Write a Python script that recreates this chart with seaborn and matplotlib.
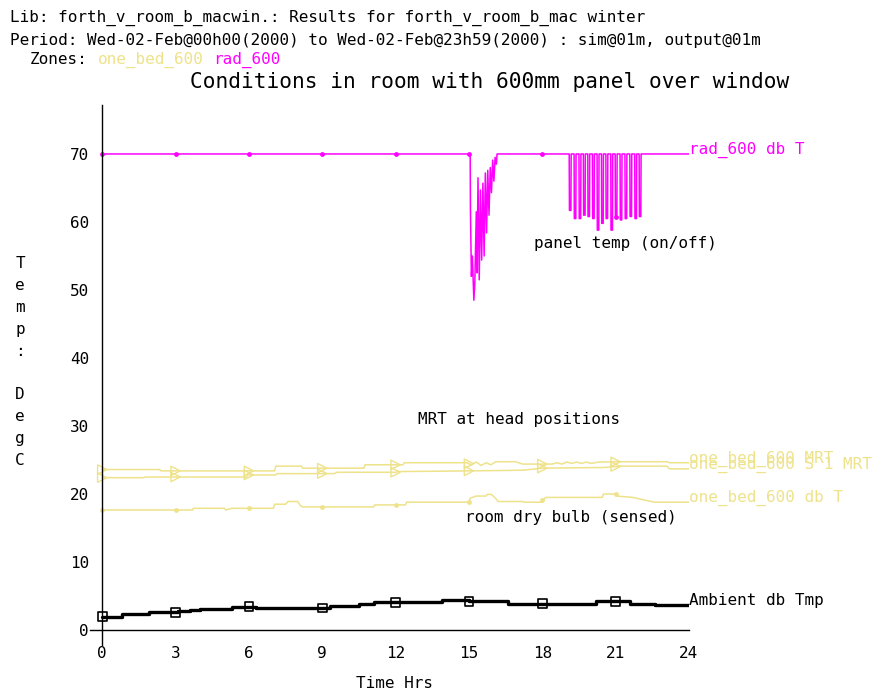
import numpy as np
import pandas as pd
import matplotlib
matplotlib.use("Agg")
import matplotlib.pyplot as plt
import seaborn as sns

# ---- values (hours, deg C) ----
hour_ticks = [0, 3, 6, 9, 12, 15, 18, 21, 24]
temp_ticks = [0, 10, 20, 30, 40, 50, 60, 70]
marker_hours = [0, 3, 6, 9, 12, 15, 18, 21]

# rad_600 db T: panel sits at 70 with a first burst of on/off cycling after 15h
rad_t = [0, 15.05, 15.06, 15.10, 15.14, 15.20, 15.24, 15.30, 15.33, 15.37, 15.42,
         15.47, 15.52, 15.57, 15.62, 15.67, 15.72, 15.77, 15.82, 15.87, 15.92,
         15.97, 16.02, 16.07, 16.12, 16.15, 19.05]
rad_v = [70, 70, 61.8, 52.0, 55.0, 48.5, 51.0, 61.5, 52.5, 66.5, 51.5,
         64.7, 54.4, 65.7, 55.0, 67.2, 58.4, 67.6, 61.0, 68.0, 64.3,
         69.1, 66.0, 69.5, 68.5, 70, 70]
# second burst: start of each off-dip and the lowest value reached
spike_t = [19.10, 19.30, 19.50, 19.68, 19.86, 20.05, 20.24, 20.42, 20.60,
           20.80, 20.98, 21.18, 21.38, 21.58, 21.78, 21.96]
spike_v = [61.7, 60.5, 60.5, 61.0, 60.8, 60.5, 58.8, 59.8, 60.5,
           58.8, 60.8, 60.3, 60.5, 60.8, 60.5, 60.8]

# one_bed_600 MRT (upper) and S 1 MRT (lower)
mrt_t = [0, 2.35, 2.40, 7.05, 7.10, 8.15, 8.20, 10.70, 10.75, 12.30, 12.35, 14.90,
         15.10, 15.30, 15.50, 15.70, 15.90, 16.10, 16.90, 17.20, 18.40, 18.60, 18.80,
         19.00, 19.20, 19.40, 19.60, 19.80, 20.00, 20.30, 21.30, 23.10, 23.20, 24]
mrt_v = [23.6, 23.6, 23.4, 23.4, 24.1, 24.1, 23.8, 23.8, 24.3, 24.3, 24.6, 24.6,
         24.3, 24.7, 24.2, 24.6, 24.3, 24.75, 24.75, 24.4, 24.4, 24.6, 24.4,
         24.7, 24.5, 24.7, 24.5, 24.7, 24.5, 24.7, 24.75, 24.75, 24.6, 24.6]
mrt_s1_t = [0, 1.70, 1.75, 5.90, 5.95, 7.10, 7.15, 9.50, 9.60, 12.0, 12.1, 15.0,
            17.2, 18.0, 20.5, 21.2, 23.1, 23.2, 24]
mrt_s1_v = [22.4, 22.4, 22.5, 22.5, 22.8, 22.8, 23.0, 23.0, 23.2, 23.2, 23.3, 23.4,
            23.5, 23.8, 23.9, 24.1, 24.1, 23.7, 23.7]

# one_bed_600 db T (room dry bulb)
dbt_t = [0, 3.70, 3.72, 5.00, 5.05, 5.30, 7.00, 7.05, 7.50, 7.60, 8.00, 8.10, 8.20,
         11.10, 11.15, 12.40, 12.45, 15.00, 15.05, 15.30, 15.70, 15.75, 15.90, 16.00,
         16.20, 17.20, 17.25, 17.95, 18.00, 18.15, 20.45, 20.50, 21.00, 21.05, 21.70,
         22.20, 22.60, 24]
dbt_v = [17.65, 17.65, 17.9, 17.9, 17.65, 17.9, 17.9, 18.5, 18.5, 18.9, 18.9, 18.3, 18.1,
         18.1, 18.4, 18.4, 18.8, 18.8, 19.4, 19.7, 19.7, 19.95, 19.95, 19.7,
         18.9, 18.9, 18.8, 18.8, 19.1, 19.5, 19.5, 20.0, 20.0, 19.7, 19.5,
         19.1, 18.8, 18.8]

# Ambient db Tmp (stepped)
amb_t = [0, 0.8, 1.9, 3.1, 3.6, 4.0, 5.3, 6.3, 9.3, 10.5, 11.1, 13.9, 15.0, 16.6,
         20.2, 21.6, 22.6, 24]
amb_v = [1.95, 2.35, 2.6, 2.8, 2.95, 3.1, 3.45, 3.25, 3.5, 3.8, 4.1, 4.45, 4.2, 3.9,
         4.25, 3.9, 3.75, 3.75]

MAGENTA = "#ff00ff"
KHAKI = "#eee28a"

# build the full panel series from the flat part and the dips
rad_x = list(rad_t)
rad_y = list(rad_v)
for s, d in zip(spike_t, spike_v):
    rad_x += [s, s + 0.01, s + 0.07, s + 0.08]
    rad_y += [70, d, d, 70]
rad_x.append(24)
rad_y.append(70)


def step_at(t, v, hours):
    idx = np.searchsorted(t, hours, side="right") - 1
    return np.asarray(v)[idx]


sns.set_theme(style="white")
plt.rcParams["font.family"] = ["DejaVu Sans Mono", "DejaVu Sans"]
plt.rcParams["text.color"] = "black"
plt.rcParams["xtick.color"] = "black"
plt.rcParams["ytick.color"] = "black"

fig = plt.figure(figsize=(8.75, 6.93), dpi=100)
ax = fig.add_axes([90 / 875, 48 / 693, 599 / 875, 540 / 693])

line_kw = dict(estimator=None, sort=False, legend=False, ax=ax)

sns.lineplot(x=rad_x, y=rad_y, color=MAGENTA, linewidth=1.1, **line_kw)
sns.scatterplot(x=marker_hours, y=np.interp(marker_hours, rad_x, rad_y), color=MAGENTA,
                s=12, linewidth=0, ax=ax, legend=False)

sns.lineplot(x=mrt_t, y=mrt_v, color=KHAKI, linewidth=1.1, **line_kw)
sns.lineplot(x=mrt_s1_t, y=mrt_s1_v, color=KHAKI, linewidth=1.1, **line_kw)
for tt, vv in [(mrt_t, mrt_v), (mrt_s1_t, mrt_s1_v)]:
    sns.scatterplot(x=marker_hours, y=np.interp(marker_hours, tt, vv), marker=">",
                    color=KHAKI, facecolor="none", edgecolor=KHAKI, s=45,
                    linewidth=1.0, ax=ax, legend=False)

sns.lineplot(x=dbt_t, y=dbt_v, color=KHAKI, linewidth=1.1, **line_kw)
sns.scatterplot(x=marker_hours, y=np.interp(marker_hours, dbt_t, dbt_v), color=KHAKI,
                s=12, linewidth=0, ax=ax, legend=False)

sns.lineplot(x=amb_t, y=amb_v, color="black", linewidth=2.4, drawstyle="steps-post",
             **line_kw)
sns.scatterplot(x=marker_hours, y=step_at(amb_t, amb_v, marker_hours), marker="s",
                color="black", facecolor="none", edgecolor="black", s=40,
                linewidth=1.2, ax=ax, legend=False)

# axes
ax.set_xlim(-0.5, 24)
ax.set_ylim(-2.2, 77.2)
ax.set_xticks(hour_ticks)
ax.set_yticks(temp_ticks)
for side in ["top", "right"]:
    ax.spines[side].set_visible(False)
ax.spines["bottom"].set_position(("data", 0))
ax.spines["bottom"].set_bounds(-0.5, 24)
ax.spines["left"].set_position(("data", 0))
for side in ["bottom", "left"]:
    ax.spines[side].set_color("black")
    ax.spines[side].set_linewidth(1.0)
ax.tick_params(axis="both", direction="out", length=8.5, width=1, colors="black",
               labelsize=11.5)
ax.tick_params(axis="x", pad=3)
ax.tick_params(axis="y", pad=1)
ax.set_xlabel("")
ax.set_ylabel("")
ax.patch.set_alpha(0)

# line end labels
end_labels = [
    ("rad_600 db T", rad_y[-1], MAGENTA),
    ("one_bed_600 MRT", mrt_v[-1], KHAKI),
    ("one_bed_600 S 1 MRT", mrt_s1_v[-1], KHAKI),
    ("one_bed_600 db T", dbt_v[-1], KHAKI),
    ("Ambient db Tmp", amb_v[-1], "black"),
]
for txt, yv, col in end_labels:
    ax.text(24.0, yv, txt, color=col, fontsize=11.5, ha="left", va="baseline",
            clip_on=False)

ax.text(21.4, 56.9, "panel temp (on/off)", fontsize=11.5, ha="center", va="center")
ax.text(17.06, 31.0, "MRT at head positions", fontsize=11.5, ha="center", va="center")
ax.text(19.16, 16.5, "room dry bulb (sensed)", fontsize=11.5, ha="center", va="center")


def fx(px):
    return px / 875


def fy(py):
    return 1 - py / 693


fig.text(fx(10), fy(18), "Lib: forth_v_room_b_macwin.: Results for forth_v_room_b_mac winter",
         fontsize=11.5, va="center")
fig.text(fx(10), fy(40), "Period: Wed-02-Feb@00h00(2000) to Wed-02-Feb@23h59(2000) : sim@01m, output@01m",
         fontsize=11.5, va="center")
fig.text(fx(30), fy(60), "Zones:", fontsize=11.5, va="center")
fig.text(fx(98), fy(60), "one_bed_600", fontsize=11.5, va="center", color=KHAKI)
fig.text(fx(213), fy(60), "rad_600", fontsize=11.5, va="center", color=MAGENTA)
fig.text(fx(490), fy(82), "Conditions in room with 600mm panel over window",
         fontsize=15.2, ha="center", va="center")
fig.text(fx(395), fy(684), "Time Hrs", fontsize=11.5, ha="center", va="center")

for i, ch in enumerate("Temp: DegC"):
    fig.text(fx(20), fy(264 + i * 21.8), ch, fontsize=11.5, ha="center", va="center")

fig.savefig("out.png", dpi=100, facecolor="white")
